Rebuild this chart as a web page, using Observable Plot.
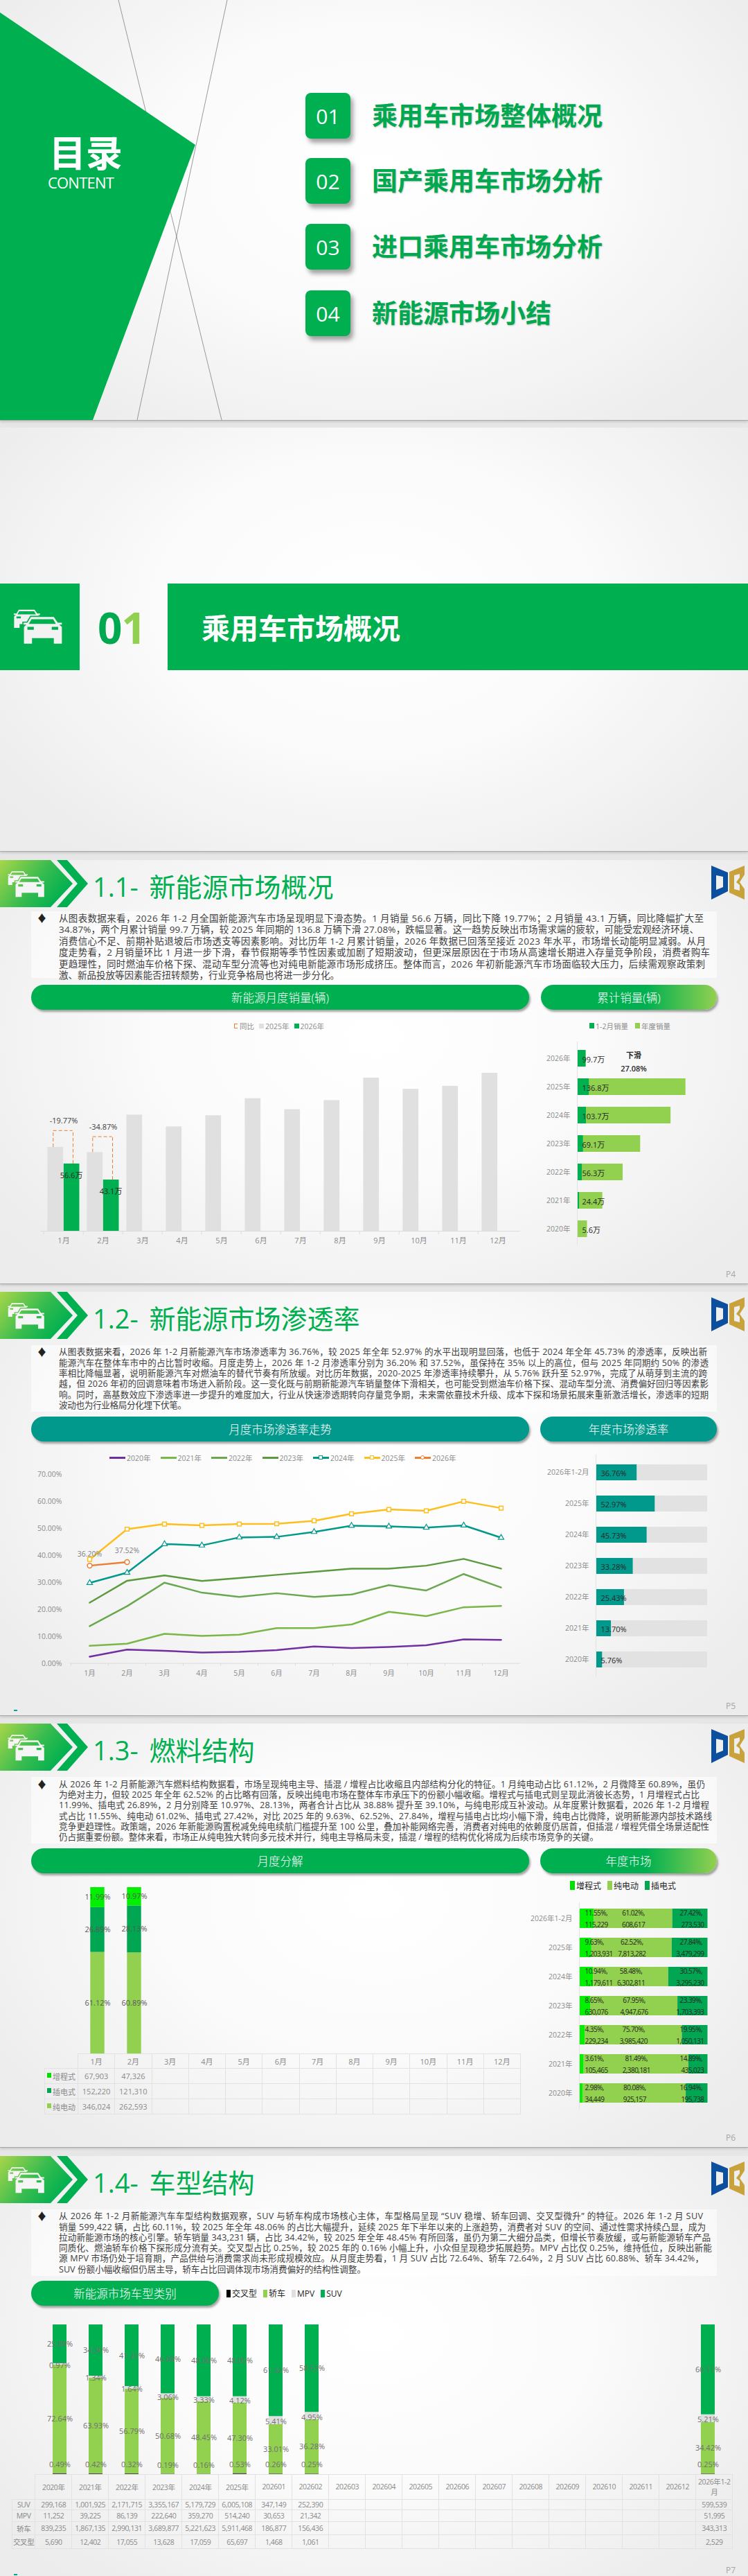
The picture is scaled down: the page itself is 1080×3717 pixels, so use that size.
<!DOCTYPE html>
<html><head><meta charset="utf-8">
<script src="https://cdn.jsdelivr.net/npm/d3@7"></script>
<script src="https://cdn.jsdelivr.net/npm/@observablehq/plot@0.6"></script>
<style>
html,body{margin:0;padding:0;background:#e6e6e6}
#page{position:relative;width:1080px;height:3717px;overflow:hidden;font-family:"Open Sans","Noto Sans CJK SC",sans-serif;color:#404040}
.abs{position:absolute;white-space:nowrap}
.slide{position:absolute;left:0;width:1080px;height:611px;background:radial-gradient(ellipse 62% 75% at 50% 42%,#fff 0,#fbfbfb 45%,#f0f0f1 85%,#ececec 100%);box-shadow:0 1px 0 #a8a8a8,0 3px 3px #c8c8c8}
.pill{position:absolute;border-radius:18px;color:#fff;display:flex;align-items:center;justify-content:center;font-size:16.5px;font-weight:300;box-shadow:2px 3px 3px rgba(60,60,60,.45)}
.item{position:absolute;left:441px;width:65px;height:66px;border-radius:8px;background:#00b050;color:#fff;font-size:30px;display:flex;align-items:center;justify-content:center;box-shadow:4px 6px 6px rgba(90,90,90,.55)}
.itemt{position:absolute;left:537px;color:#00a84f;font-weight:700;font-size:37px;line-height:44px;white-space:nowrap;text-shadow:1px 1px 2px rgba(120,120,120,.4)}
table.tb{position:absolute;border-collapse:collapse;table-layout:fixed;font-size:10.5px;color:#8a8a8a;text-align:center}
table.tb td{border:1px solid #e2e2e2;padding:0;overflow:hidden;white-space:nowrap;box-sizing:border-box}
table.tb td.none{border:none}
.sw{display:inline-block;vertical-align:middle}
svg{overflow:visible}
</style></head><body><div id="page"></div>
<script>
// ---------- data ----------
const months=["1月","2月","3月","4月","5月","6月","7月","8月","9月","10月","11月","12月"];
const sales2025=[70.5,66.2,97.7,87.8,97.2,111.5,102.3,109.9,128.8,119.4,121.9,132.9];
const sales2026=[56.6,43.1];
const yoyLabels=["-19.77%","-34.87%"];
const yoyTop=[84.6,79.5];
const cumYears=["2026年","2025年","2024年","2023年","2022年","2021年","2020年"];
const cumJanFeb=[99.7,136.8,103.7,69.1,56.3,24.4,5.6];
const cumAnnual=[99.7,1249.7,1077.8,728.1,526.5,292.1,115.5];

const pen2020=[2.5,5.1,4.7,4.05,4.26,4.9,6.3,5.7,6.1,6.7,8.9,8.7];
const pen2021=[6.5,7.3,10.95,10.2,10.65,13.1,13.1,14.4,19.1,17.5,20.8,21.3];
const pen2022=[13.8,21.2,29.9,26.2,24.6,26.0,24.6,25.5,29.0,27.0,33.1,28.1];
const pen2023=[22.5,30.6,32.6,30.5,31.6,32.8,33.9,35.1,35.1,36.2,38.7,35.1];
const pen2024=[29.8,33.6,44.2,43.7,46.65,46.85,48.7,51.0,50.7,50.3,51.1,46.55];
const pen2025=[38.5,49.7,51.6,51.1,51.6,51.7,52.8,55.4,57.0,56.5,60.0,57.5];
const pen2026=[36.20,37.52];
const penYears=["2026年1-2月","2025年","2024年","2023年","2022年","2021年","2020年"];
const penAnnual=[36.76,52.97,45.73,33.28,25.43,13.70,5.76];

const fuelMonthBev=[61.12,60.89];
const fuelMonthPhev=[26.89,28.13];
const fuelMonthErev=[11.99,10.97];
const fuelCountErev=[67903,47326];
const fuelCountPhev=[152220,121310];
const fuelCountBev=[346024,262593];
const fuelYears=["2026年1-2月","2025年","2024年","2023年","2022年","2021年","2020年"];
const erevPct=[11.55,9.63,10.94,8.65,4.35,3.61,2.98];
const erevCnt=[115229,1203931,1179611,630076,229234,105465,34449];
const bevPct=[61.02,62.52,58.48,67.95,75.70,81.49,80.08];
const bevCnt=[608617,7813282,6302811,4947676,3985420,2380181,925157];
const phevPct=[27.42,27.84,30.57,23.39,19.95,14.89,16.94];
const phevCnt=[273530,3479299,3295230,1703393,1050131,435023,195738];

const typeCols=["2020年","2021年","2022年","2023年","2024年","2025年","202601","202602","202603","202604","202605","202606","202607","202608","202609","202610","202611","202612","2026年1-2月"];
const typeBarCols=["2020年","2021年","2022年","2023年","2024年","2025年","202601","202602","2026年1-2月"];
const crossPct=[0.49,0.42,0.32,0.19,0.16,0.53,0.26,0.25,0.25];
const sedanPct=[72.64,63.93,56.79,50.68,48.45,47.30,33.01,36.28,34.42];
const mpvPct=[0.97,1.34,1.64,3.06,3.33,4.12,5.41,4.95,5.21];
const suvPct=[25.89,34.30,41.25,46.08,48.06,48.05,61.32,58.53,60.11];
const suvCnt=[299168,1001925,2171715,3355167,5179729,6005108,347149,252390,599539];
const mpvCnt=[11252,39225,86139,222640,359270,514240,30653,21342,51995];
const sedanCnt=[839235,1867135,2990131,3689877,5221623,5911468,186877,156436,343313];
const crossCnt=[5690,12402,17055,13628,17059,65697,1468,1061,2529];

const para11=["从图表数据来看，2026 年 1-2 月全国新能源汽车市场呈现明显下滑态势。1 月销量 56.6 万辆，同比下降 19.77%；2 月销量 43.1 万辆，同比降幅扩大至","34.87%，两个月累计销量 99.7 万辆，较 2025 年同期的 136.8 万辆下滑 27.08%，跌幅显著。这一趋势反映出市场需求端的疲软，可能受宏观经济环境、","消费信心不足、前期补贴退坡后市场透支等因素影响。对比历年 1-2 月累计销量，2026 年数据已回落至接近 2023 年水平，市场增长动能明显减弱。从月","度走势看，2 月销量环比 1 月进一步下滑，春节假期等季节性因素或加剧了短期波动，但更深层原因在于市场从高速增长期进入存量竞争阶段，消费者购车","更趋理性，同时燃油车价格下探、混动车型分流等也对纯电新能源市场形成挤压。整体而言，2026 年初新能源汽车市场面临较大压力，后续需观察政策刺","激、新品投放等因素能否扭转颓势，行业竞争格局也将进一步分化。"];
const para12=["从图表数据来看，2026 年 1-2 月新能源汽车市场渗透率为 36.76%，较 2025 年全年 52.97% 的水平出现明显回落，也低于 2024 年全年 45.73% 的渗透率，反映出新","能源汽车在整体车市中的占比暂时收缩。月度走势上，2026 年 1-2 月渗透率分别为 36.20% 和 37.52%，虽保持在 35% 以上的高位，但与 2025 年同期约 50% 的渗透","率相比降幅显著，说明新能源汽车对燃油车的替代节奏有所放缓。对比历年数据，2020-2025 年渗透率持续攀升，从 5.76% 跃升至 52.97%，完成了从萌芽到主流的跨","越，但 2026 年初的回调意味着市场进入新阶段。这一变化既与前期新能源汽车销量整体下滑相关，也可能受到燃油车价格下探、混动车型分流、消费偏好回归等因素影","响。同时，高基数效应下渗透率进一步提升的难度加大，行业从快速渗透期转向存量竞争期，未来需依靠技术升级、成本下探和场景拓展来重新激活增长，渗透率的短期","波动也为行业格局分化埋下伏笔。"];
const para13=["从 2026 年 1-2 月新能源汽车燃料结构数据看，市场呈现纯电主导、插混 / 增程占比收缩且内部结构分化的特征。1 月纯电动占比 61.12%，2 月微降至 60.89%，虽仍","为绝对主力，但较 2025 年全年 62.52% 的占比略有回落，反映出纯电市场在整体车市承压下的份额小幅收缩。增程式与插电式则呈现此消彼长态势，1 月增程式占比","11.99%、插电式 26.89%，2 月分别降至 10.97%、28.13%，两者合计占比从 38.88% 提升至 39.10%，与纯电形成互补波动。从年度累计数据看，2026 年 1-2 月增程","式占比 11.55%、纯电动 61.02%、插电式 27.42%，对比 2025 年的 9.63%、62.52%、27.84%，增程与插电占比均小幅下滑，纯电占比微降，说明新能源内部技术路线","竞争更趋理性。政策端，2026 年新能源购置税减免纯电续航门槛提升至 100 公里，叠加补能网络完善，消费者对纯电的依赖度仍居首，但插混 / 增程凭借全场景适配性","仍占据重要份额。整体来看，市场正从纯电独大转向多元技术并行，纯电主导格局未变，插混 / 增程的结构优化将成为后续市场竞争的关键。"];
const para14=["从 2026 年 1-2 月新能源汽车车型结构数据观察，SUV 与轿车构成市场核心主体，车型格局呈现 “SUV 稳增、轿车回调、交叉型微升” 的特征。2026 年 1-2 月 SUV","销量 599,422 辆，占比 60.11%，较 2025 年全年 48.06% 的占比大幅提升，延续 2025 年下半年以来的上涨趋势，消费者对 SUV 的空间、通过性需求持续凸显，成为","拉动新能源市场的核心引擎。轿车销量 343,231 辆，占比 34.42%，较 2025 年全年 48.45% 有所回落，虽仍为第二大细分品类，但增长节奏放缓，或与新能源轿车产品","同质化、燃油轿车价格下探形成分流有关。交叉型占比 0.25%，较 2025 年的 0.16% 小幅上升，小众但呈现稳步拓展趋势。MPV 占比仅 0.25%，维持低位，反映出新能","源 MPV 市场仍处于培育期，产品供给与消费需求尚未形成规模效应。从月度走势看，1 月 SUV 占比 72.64%、轿车 72.64%，2 月 SUV 占比 60.88%、轿车 34.42%，","SUV 份额小幅收缩但仍居主导，轿车占比回调体现市场消费偏好的结构性调整。"];
const tocItems=["乘用车市场整体概况","国产乘用车市场分析","进口乘用车市场分析","新能源市场小结"];

// ---------- helpers ----------
const FONT='"Open Sans","Noto Sans CJK SC",sans-serif';
const GREEN="#00b050",LIGHT="#92d050",TEAL="#00998c",GREY="#e0e0e0",AXIS="#8c8c8c";
const page=document.getElementById("page");
function el(html){const t=document.createElement("div");t.innerHTML=html;const n=t.firstElementChild;page.appendChild(n);return n;}
function txt(x,y,s,style){return el(`<div class="abs" style="left:${x}px;top:${y}px;${style}">${s}</div>`);}
let carId=0;
const FRONT="M135 122H235L252 147H270V155H258L270 165V238H235V214H140V238H105V165L116 155H103V147H120Z M138 132H232L244 152H126Z M120 165H148V178H120Z M226 165H254V178H226Z";
function car(x,y,w,color){carId++;
 return el(`<svg class="abs" style="left:${x}px;top:${y}px" width="${w}" height="${w*160/220}" viewBox="55 85 220 160"><defs><mask id="cm${carId}" maskUnits="userSpaceOnUse" x="0" y="0" width="400" height="400"><rect x="0" y="0" width="400" height="400" fill="#fff"/><path d="${FRONT}" fill="#000" stroke="#000" stroke-width="10"/></mask></defs><g mask="url(#cm${carId})"><path transform="translate(-9.9 6.4) scale(.685)" d="${FRONT}" fill="${color}" fill-rule="evenodd"/></g><path d="${FRONT}" fill="${color}" fill-rule="evenodd"/></svg>`);}
function place(plot,left,top){plot.style.position="absolute";plot.style.left=left+"px";plot.style.top=top+"px";plot.style.background="transparent";plot.style.overflow="visible";page.appendChild(plot);}
function baseStyle(size){return {fontFamily:FONT,fontSize:(size||10.5)+"px",background:"transparent",overflow:"visible"};}
function slideBase(T,title,pg,para,rights,firstY,pitch,fs,paraTop){
 el(`<div class="slide" style="top:${T}px"></div>`);
 el(`<svg class="abs" style="left:0;top:${T}px" width="140" height="68" viewBox="0 0 140 68"><defs><linearGradient id="hg${T}" x1="0" y1="0" x2="1" y2=".5"><stop offset="0" stop-color="#a8d64a"/><stop offset=".6" stop-color="#35bb4f"/><stop offset="1" stop-color="#00b050"/></linearGradient></defs><path d="M0 0H73L105 34L73 68H0Z" fill="url(#hg${T})"/><path d="M82 0H97L127 34L97 68H82L112 34Z" fill="${GREEN}"/></svg>`);
 car(10,T+14.5,55,"#f5f5f5");
 txt(134,T+10,title,`font-size:38px;line-height:56px;color:${GREEN};word-spacing:6px`);
 el(`<svg class="abs" style="left:1020px;top:${T+6}px" width="60" height="60" viewBox="0 0 60 60"><path d="M7 2L31 12V39L7 51Z M14 16V37L24 33V18Z" fill="#0c4f9e" fill-rule="evenodd"/><path d="M33 11L55 2V15L48 26L55 36V51L33 41Z M40 16V36L48 38V30L43 26L48 19V14Z" fill="#c9a23c" fill-rule="evenodd"/></svg>`);
 el(`<div class="abs" style="left:45px;top:${T+paraTop}px;width:990px;height:96px;background:rgba(255,255,255,.55)"></div>`);
 txt(53,T+firstY-11,"♦",`font-size:15px;line-height:22px;color:#222`);
 para.forEach((line,i)=>{
  const n=txt(85,T+firstY+i*pitch-8,line,`font-size:${fs}px;line-height:16px;color:#404040`);
  const w=n.getBoundingClientRect().width;
  n.style.letterSpacing=((rights[i]-85-w)/(line.length-1)).toFixed(3)+"px";
 });
 txt(1048,T+589,pg,`font-size:12px;line-height:18px;color:#a6a6a6`);
}
function pill(T,x,w,s,bg){el(`<div class="pill" style="left:${x}px;top:${T+180}px;width:${w}px;height:36px;background:${bg}">${s}</div>`);}
const GRAD=`linear-gradient(90deg,${GREEN} 0,${GREEN} 60%,${LIGHT} 100%)`;
function swatch(c,w,h){return `<span class="sw" style="width:${w}px;height:${h}px;background:${c}"></span>`;}
function legend(x,y,items,style,gap){
 el(`<div class="abs" style="left:${x}px;top:${y-10}px;height:20px;display:flex;align-items:center;gap:${gap}px;${style}">${items.map(([sw,s])=>`<span style="display:flex;align-items:center;gap:2px">${sw}<span>${s}</span></span>`).join("")}</div>`);
}
function table(x,y,colW,rowH,rows,style){
 const html=`<table class="tb" style="left:${x}px;top:${y}px;width:${colW.reduce((a,b)=>a+b,0)}px;${style||""}"><colgroup>${colW.map(w=>`<col style="width:${w}px">`).join("")}</colgroup>${rows.map((r,i)=>`<tr style="height:${rowH[i]}px">${r.map(c=>`<td${c===null?' class="none"':""}>${c===null?"":c}</td>`).join("")}</tr>`).join("")}</table>`;
 return el(html);
}
const fmt=d3.format(",");

// ---------- slide 1 : contents ----------
el(`<div class="slide" style="top:-5px"></div>`);
el(`<svg class="abs" style="left:0;top:0" width="1080" height="606"><path d="M171 0L320 606M328 0L198 606" stroke="#808080" stroke-width=".8" fill="none"/><path d="M0 18L282 209L134 606H0Z" fill="${GREEN}"/></svg>`);
txt(71,192,"目录","font-size:53px;line-height:58px;font-weight:700;color:#fff;letter-spacing:0");
txt(69,250,"CONTENT","font-size:22px;line-height:26px;color:#fff;letter-spacing:-.8px");
[134,228,323,419].forEach((y,i)=>{
 el(`<div class="item" style="top:${y}px">0${i+1}</div>`);
 el(`<div class="itemt" style="top:${y+11}px">${tocItems[i]}</div>`);
});

// ---------- slide 2 : section ----------
el(`<div class="slide" style="top:617px"></div>`);
el(`<div class="abs" style="left:0;top:842px;width:115px;height:125px;background:${GREEN}"></div>`);
el(`<div class="abs" style="left:242px;top:842px;width:838px;height:125px;background:${GREEN}"></div>`);
car(18.3,878,73,"#f2f2f2");
txt(141,860,`<span style="color:#00a84f">0</span><span style="color:${LIGHT}">1</span>`,"font-size:62px;line-height:90px;font-weight:700;letter-spacing:-1px");
txt(291,876,"乘用车市场概况","font-size:41px;line-height:60px;font-weight:700;color:#fff");

// ---------- 1.1 ----------
{const T=1241;
 slideBase(T,"1.1- 新能源市场概况","P4",para11,[1016,1009,1019,1025,1018,490],84,16.45,13.5,74);
 pill(T,45,719,"新能源月度销量(辆)",GREEN);
 pill(T,781,254,"累计销量(辆)",GRAD);
 legend(338,1480,[
  [`<span class="sw" style="width:5px;height:7px;border:1.5px solid #ed7d31;border-right:none;box-sizing:border-box;margin-right:1px"></span>`,"同比"],
  [swatch(GREY,7,7),"2025年"],[swatch(GREEN,7,7),"2026年"]],`font-size:10.5px;color:${AXIS}`,7);
 legend(851,1480,[[swatch(GREEN,7,8),"1-2月销量"],[swatch(LIGHT,7,8),"年度销量"]],`font-size:10.5px;color:${AXIS}`,10);

 const d25=months.map((m,i)=>({m,v:sales2025[i]}));
 const d26=sales2026.map((v,i)=>({m:months[i],v,top:yoyTop[i],v25:sales2025[i],lab:yoyLabels[i]}));
 const H=290,bot=34;
 place(Plot.plot({width:710,height:H,marginLeft:8.6,marginRight:8.7,marginTop:0,marginBottom:bot,style:baseStyle(11),
  x:{type:"band",domain:months,padding:0,label:null,tickSize:0,tickPadding:10},
  y:{domain:[0,149.2],axis:null},
  marks:[
   Plot.axisX({anchor:"bottom",tickSize:0,tickPadding:10,color:AXIS,label:null}),
   Plot.barY(d25,{x:"m",y:"v",fill:GREY,insetLeft:5.4,insetRight:28.9}),
   Plot.barY(d26,{x:"m",y:"v",fill:GREEN,insetLeft:28.8,insetRight:5.5}),
   Plot.ruleY([0],{stroke:"#dcdcdc"}),
   Plot.ruleX(months,{x:d=>d,y1:0,y2:-3,dx:-28.8,stroke:"#dcdcdc"}),
   Plot.ruleX(d26,{x:"m",y1:"v25",y2:"top",dx:-15.2,stroke:"#ed7d31",strokeDasharray:"5 3"}),
   Plot.ruleX(d26,{x:"m",y1:"v",y2:"top",dx:13.5,stroke:"#ed7d31",strokeDasharray:"5 3"}),
   Plot.tickY(d26,{x:"m",y:"top",insetLeft:13.7,insetRight:15.4,stroke:"#ed7d31",strokeDasharray:"5 3"}),
   Plot.text(d26,{x:"m",y:"top",text:"lab",dy:-14,fill:"#404040",fontSize:11}),
   Plot.text(d26,{x:"m",y:"v",text:d=>d.v+"万",dy:17,dx:11,fill:"#262626",fontSize:11}),
  ]}),50,1520);

 const dc=cumYears.map((y,i)=>({y,j:cumJanFeb[i],a:cumAnnual[i]}));
 place(Plot.plot({width:270,height:293,marginLeft:63,marginRight:44,marginTop:0,marginBottom:0,style:baseStyle(10.5),
  x:{domain:[0,1300],axis:null},
  y:{domain:cumYears,paddingInner:.415,paddingOuter:.2075,label:null},
  marks:[
   Plot.axisY({anchor:"left",tickSize:0,tickPadding:10,color:AXIS,label:null}),
   Plot.barX(dc,{y:"y",x:"a",fill:LIGHT}),
   Plot.barX(dc,{y:"y",x:"j",fill:GREEN}),
   Plot.ruleX([0],{stroke:"#e2e2e2"}),
   Plot.text(dc,{y:"y",x:0,text:d=>d.j+"万",textAnchor:"start",dx:7,dy:2,fill:"#262626",fontSize:11}),
  ]}),770,1503);
 txt(895,1515,"下滑","font-size:11px;line-height:16px;color:#262626;font-weight:600;width:40px;text-align:center");
 txt(893,1534,"27.08%","font-size:11px;line-height:16px;color:#262626;font-weight:600;width:44px;text-align:center");
}

// ---------- 1.2 ----------
{const T=1864;
 slideBase(T,"1.2- 新能源市场渗透率","P5",para12,[1021,1023,1021,1023,1023,269],87.3,15.35,12.6,77);
 pill(T,45,719,"月度市场渗透率走势",TEAL);
 pill(T,780,255,"年度市场渗透率",TEAL);
 const mk=(c,shape)=>`<span style="position:relative;display:inline-block;width:23px;height:3px;background:${c}">${shape?`<span style="position:absolute;left:8px;top:-2px;width:6px;height:6px;box-sizing:border-box;background:#fff;border:1.3px solid ${c};${shape==="c"?"border-radius:50%":""}"></span>`:""}</span>`;
 const C={"2020年":"#7030a0","2021年":"#7ab648","2022年":"#6aa84f","2023年":"#5b9a3e","2024年":"#00998c","2025年":"#fdbf1d","2026年":"#ed7d31"};
 legend(158,2103.6,Object.keys(C).map((k,i)=>[mk(C[k],i<4?null:(i==6?"c":"s")),k]),`font-size:10.5px;color:${AXIS}`,14);
 const series={"2020年":pen2020,"2021年":pen2021,"2022年":pen2022,"2023年":pen2023,"2024年":pen2024,"2025年":pen2025,"2026年":pen2026};
 const all=Object.entries(series).flatMap(([s,a])=>a.map((v,i)=>({s,m:months[i],v})));
 const sel=s=>all.filter(d=>d.s===s);
 place(Plot.plot({width:710,height:310,marginLeft:50,marginRight:9,marginTop:6.9,marginBottom:30.3,style:baseStyle(10.5),
  x:{type:"band",domain:months,padding:0,label:null},
  y:{domain:[0,70],label:null},
  color:{domain:Object.keys(C),range:Object.values(C)},
  marks:[
   Plot.axisY({ticks:[0,10,20,30,40,50,60,70],tickFormat:d=>d.toFixed(2)+"%",tickSize:0,tickPadding:11,color:AXIS,label:null}),
   Plot.axisX({tickSize:0,tickPadding:10,color:AXIS,label:null}),
   Plot.ruleY([0],{stroke:"#dcdcdc"}),
   Plot.ruleX(months,{x:d=>d,y1:0,y2:-1,dx:-27,stroke:"#dcdcdc"}),
   Plot.line(all,{x:"m",y:"v",z:"s",stroke:"s",strokeWidth:2.5,curve:"linear"}),
   Plot.dot(sel("2024年"),{x:"m",y:"v",symbol:"triangle",r:3,fill:"#fff",stroke:C["2024年"],strokeWidth:1.2}),
   Plot.dot(sel("2025年"),{x:"m",y:"v",symbol:"square",r:3.2,fill:"#fff",stroke:C["2025年"],strokeWidth:1.5}),
   Plot.dot(sel("2026年"),{x:"m",y:"v",symbol:"circle",r:3.4,fill:"#fff",stroke:C["2026年"],strokeWidth:1.5}),
   Plot.text(sel("2026年"),{x:"m",y:"v",text:d=>d.v.toFixed(2)+"%",dy:-16,fill:"#7f7f7f",fontSize:10.5}),
  ]}),50,2120);
 const dp=penYears.map((y,i)=>({y,v:penAnnual[i]}));
 place(Plot.plot({width:270,height:320,marginLeft:90,marginRight:19,marginTop:0,marginBottom:0,style:baseStyle(10.5),
  x:{domain:[0,100],axis:null},
  y:{domain:penYears,paddingInner:.497,paddingOuter:.2485,label:null},
  marks:[
   Plot.axisY({tickSize:0,tickPadding:10,color:AXIS,label:null}),
   Plot.barX(dp,{y:"y",x:100,fill:"#e2e2e2"}),
   Plot.barX(dp,{y:"y",x:"v",fill:TEAL}),
   Plot.ruleX([0],{stroke:"#e2e2e2"}),
   Plot.text(dp,{y:"y",x:0,text:d=>d.v.toFixed(2)+"%",textAnchor:"start",dx:7,dy:1,fill:"#262626",fontSize:11}),
  ]}),770,2099);
 el(`<div class="abs" style="left:20px;top:${T+603}px;width:5px;height:1.5px;background:#00a2a2"></div>`);
}

// ---------- 1.3 ----------
{const T=2487;
 slideBase(T,"1.3- 燃料结构","P6",para13,[1018,1010,1024,1028,1024,864],88,15.2,12.6,77);
 pill(T,45,719,"月度分解",GREEN);
 pill(T,780,255,"年度市场",GRAD);
 const BRIGHT="#00f000",DARK="#00a651";
 legend(823,2720.8,[[swatch("#00e000",7,13),"增程式"],[swatch(LIGHT,7,13),"纯电动"],[swatch("#00a651",7,13),"插电式"]],"font-size:12px;color:#262626",9);
 const fm=[];
 fuelMonthBev.forEach((v,i)=>{fm.push({m:months[i],s:"纯电动",v});fm.push({m:months[i],s:"插电式",v:fuelMonthPhev[i]});fm.push({m:months[i],s:"增程式",v:fuelMonthErev[i]});});
 const cd={domain:["增程式","纯电动","插电式"],range:[BRIGHT,LIGHT,DARK]};
 const lab=d=>d.v.toFixed(2)+"%";
 place(Plot.plot({width:660,height:240.7,marginLeft:12,marginRight:9,marginTop:0,marginBottom:0,style:baseStyle(11),
  x:{type:"band",domain:months,padding:0,axis:null},
  y:{domain:[0,100],axis:null},
  color:cd,
  marks:[
   Plot.barY(fm,Plot.stackY({order:null},{x:"m",y:"v",fill:"s",insetLeft:16.3,insetRight:16.3})),
   Plot.text(fm,Plot.stackY({order:null},{x:"m",y:"v",z:"s",text:lab,fill:"#595959",fontSize:11})),
  ]}),100,2722.7);
 const colW=[48].concat(months.map(()=>53.25));
 const cells=(a)=>months.map((m,i)=>i<a.length?fmt(a[i]):"");
 const key=c=>`<span class="sw" style="width:6px;height:7px;background:${c};margin:-6px 2px 0 0"></span>`;
 table(64,2963.4,colW,[21,22,22,22],[
  [null].concat(months),
  [key("#00e000")+"增程式"].concat(cells(fuelCountErev)),
  [key("#00a651")+"插电式"].concat(cells(fuelCountPhev)),
  [key(LIGHT)+"纯电动"].concat(cells(fuelCountBev))
 ],"font-size:11px");
 const fy=fuelYears.map((y,i)=>({y,a:erevPct[i],ac:erevCnt[i],b:bevPct[i],bc:bevCnt[i],c:phevPct[i],cc:phevCnt[i]}));
 const fl=fy.flatMap(d=>[{y:d.y,s:"增程式",v:d.a},{y:d.y,s:"纯电动",v:d.b},{y:d.y,s:"插电式",v:d.c}]);
 const T1={fill:"#262626",fontSize:10};
 place(Plot.plot({width:270,height:298,marginLeft:66,marginRight:18.5,marginTop:0,marginBottom:0,style:{...baseStyle(10.5)},
  x:{domain:[0,100],axis:null},
  y:{domain:fuelYears,paddingInner:.336,paddingOuter:.168,label:null},
  color:cd,
  marks:[
   Plot.axisY({tickSize:0,tickPadding:10,color:AXIS,label:null}),
   Plot.barX(fl,Plot.stackX({order:null},{y:"y",x:"v",fill:"s"})),
   Plot.ruleX([0],{stroke:"#e2e2e2"}),
   Plot.text(fy,{y:"y",x:0,text:d=>d.a.toFixed(2)+"%,",textAnchor:"start",dx:8,dy:-7.3,...T1,className:"tight"}),
   Plot.text(fy,{y:"y",x:0,text:d=>fmt(d.ac),textAnchor:"start",dx:8,dy:8.8,...T1,className:"tight"}),
   Plot.text(fy,{y:"y",x:d=>d.a+d.b/2,text:d=>d.b.toFixed(2)+"%,",dy:-7.3,...T1,className:"tight"}),
   Plot.text(fy,{y:"y",x:d=>d.a+d.b/2,text:d=>fmt(d.bc),dy:8.8,...T1,className:"tight"}),
   Plot.text(fy,{y:"y",x:100,text:d=>d.c.toFixed(2)+"%,",textAnchor:"end",dx:-8,dy:-7.3,...T1,className:"tight"}),
   Plot.text(fy,{y:"y",x:100,text:d=>fmt(d.cc),textAnchor:"end",dx:-5.5,dy:8.8,...T1,className:"tight"}),
  ]}),770,2744.6);
 document.querySelectorAll(".tight").forEach(n=>n.style.letterSpacing="-.55px");
}

// ---------- 1.4 ----------
{const T=3111;
 slideBase(T,"1.4- 车型结构","P7",para14,[1015,1019,1026,1028,1016,528],87.3,15.25,12.6,77);
 pill(T,45,271,"新能源市场车型类别",GREEN);
 legend(327,3309,[[swatch("#000",6,11),"交叉型"],[swatch(LIGHT,6,11),"轿车"],[swatch(GREY,6,11),"MPV"],[swatch(GREEN,6,11),"SUV"]],"font-size:12px;color:#262626",9);
 const td=typeBarCols.flatMap((c,i)=>[{c,s:"交叉型",v:crossPct[i]},{c,s:"轿车",v:sedanPct[i]},{c,s:"MPV",v:mpvPct[i]},{c,s:"SUV",v:suvPct[i]}]);
 // label positions: midpoint of each stacked segment
 const running=new Map();
 td.forEach(d=>{const b=running.get(d.c)||0;d.mid=b+d.v/2;running.set(d.c,b+d.v);});
 const cd={domain:["交叉型","轿车","MPV","SUV"],range:["#000000",LIGHT,GREY,GREEN]};
 const lab=d=>d.v.toFixed(2)+"%";
 const LT={x:"c",y:"mid",text:lab,fill:"#6f6f6f",fontSize:11};
 place(Plot.plot({width:1030,height:215.7,marginLeft:10.3,marginRight:13,marginTop:0,marginBottom:0,style:baseStyle(11),
  x:{type:"band",domain:typeCols,padding:0,axis:null},
  y:{domain:[0,100],axis:null},
  color:cd,
  marks:[
   Plot.barY(td,Plot.stackY({order:null},{x:"c",y:"v",fill:"s",insetLeft:16,insetRight:16})),
   Plot.text(td.filter(d=>d.s==="轿车"||d.s==="SUV"),LT),
   Plot.text(td.filter(d=>d.s==="MPV"),{...LT,dy:2}),
   Plot.text(td.filter(d=>d.s==="交叉型"),{...LT,dy:-13}),
  ]}),40,3354.3);
 const colW=[33.3].concat(typeCols.map(()=>53));
 const row=(name,a)=>[name].concat(typeCols.map(c=>{const i=typeBarCols.indexOf(c);return i<0?"":fmt(a[i]);}));
 table(17,3570,colW,[35.6,15.9,16.3,19.7,19.7],[
  [null].concat(typeCols.map(c=>c==="2026年1-2月"?"2026年1-2<br>月":c)),
  row("SUV",suvCnt),row("MPV",mpvCnt),row("轿车",sedanCnt),row("交叉型",crossCnt)
 ],"font-size:10.5px;letter-spacing:-.4px");
 el(`<div class="abs" style="left:20px;top:${T+603}px;width:5px;height:1.5px;background:#00a2a2"></div>`);
}
</script></body></html>
